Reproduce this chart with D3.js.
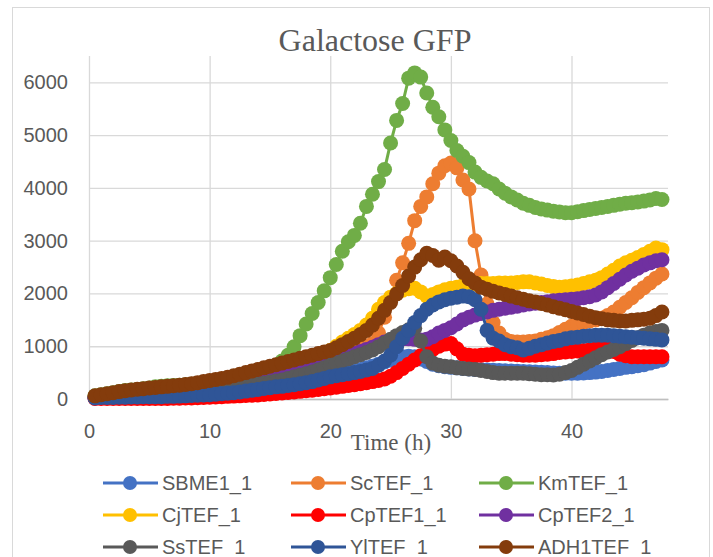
<!DOCTYPE html>
<html>
<head>
<meta charset="utf-8">
<script src="https://cdn.jsdelivr.net/npm/d3@7"></script>
<style>
  body { margin: 0; background: #fff; }
  svg { display: block; }
</style>
</head>
<body>
<div id="viz"></div>
<script>
const width = 713;
const height = 557;
const margin = {top: 56, right: 45, bottom: 158, left: 89};

// time in hours
const time = [
  0.5, 1, 1.5, 2, 2.5, 3, 3.5, 4, 4.5, 5,
  5.5, 6, 6.5, 7, 7.5, 8, 8.5, 9, 9.5, 10,
  10.5, 11, 11.5, 12, 12.5, 13, 13.5, 14, 14.5, 15,
  15.5, 16, 16.5, 17, 17.5, 18, 18.5, 19, 19.5, 20,
  20.5, 21, 21.5, 22, 22.5, 23, 23.5, 24, 24.5, 25,
  25.5, 26, 26.5, 27, 27.5, 28, 28.5, 29, 29.5, 30,
  30.5, 31, 31.5, 32, 32.5, 33, 33.5, 34, 34.5, 35,
  35.5, 36, 36.5, 37, 37.5, 38, 38.5, 39, 39.5, 40,
  40.5, 41, 41.5, 42, 42.5, 43, 43.5, 44, 44.5, 45,
  45.5, 46, 46.5, 47, 47.5
];

const SBME1_1 = [
  20, 25, 30, 30, 35, 35, 40, 40, 45, 45,
  50, 50, 55, 55, 60, 65, 70, 75, 80, 90,
  100, 110, 120, 130, 145, 160, 175, 190, 205, 220,
  235, 250, 265, 280, 300, 320, 340, 360, 385, 410,
  440, 470, 500, 530, 560, 590, 620, 660, 700, 740,
  780, 800, 810, 800, 760, 710, 660, 630, 610, 600,
  590, 580, 570, 560, 555, 550, 545, 540, 535, 530,
  525, 520, 515, 510, 505, 500, 495, 490, 490, 490,
  490, 495, 500, 510, 520, 540, 560, 580, 600, 610,
  630, 650, 680, 710, 740
];
const ScTEF_1 = [
  30, 40, 50, 55, 60, 70, 75, 80, 90, 100,
  105, 110, 120, 125, 130, 140, 150, 160, 170, 180,
  190, 200, 215, 230, 245, 260, 280, 300, 320, 340,
  360, 390, 420, 450, 480, 520, 560, 600, 640, 690,
  740, 790, 840, 890, 950, 1000, 1050, 1250, 1550, 1900,
  2250, 2580, 2950, 3380, 3650, 3830, 4080, 4280, 4420, 4470,
  4380, 4150, 3980, 3000, 2350, 1800, 1450, 1250, 1130, 1090,
  1080, 1080, 1090, 1100, 1130, 1160, 1200, 1260, 1320, 1380,
  1420, 1450, 1480, 1500, 1530, 1580, 1650, 1740, 1830, 1920,
  2020, 2110, 2200, 2290, 2370
];
const KmTEF_1 = [
  60, 80, 100, 120, 140, 160, 170, 180, 195, 210,
  230, 240, 250, 255, 260, 270, 280, 290, 300, 310,
  325, 340, 360, 380, 405, 430, 455, 485, 520, 570,
  640, 720, 830, 990, 1200, 1420, 1620, 1830, 2050, 2300,
  2550, 2800, 2980, 3100, 3330, 3650, 3880, 4120, 4350, 4850,
  5280, 5600, 6080, 6180, 6100, 5800, 5530, 5350, 5100, 4900,
  4710, 4600, 4480, 4300, 4200, 4130, 4080, 3980, 3900, 3830,
  3770, 3710, 3670, 3630, 3600, 3580, 3560, 3545, 3530, 3530,
  3550, 3570, 3590, 3610, 3630, 3650, 3670, 3690, 3710, 3720,
  3735, 3750, 3770, 3800, 3780
];
const CjTEF_1 = [
  40, 60, 80, 100, 110, 120, 130, 145, 160, 170,
  180, 190, 200, 210, 220, 230, 245, 260, 275, 290,
  305, 320, 340, 360, 380, 400, 420, 445, 470, 500,
  530, 560, 590, 620, 660, 700, 750, 800, 850, 920,
  1000, 1080, 1150, 1220, 1300, 1400, 1530, 1700, 1830, 1930,
  2000, 2060, 2090, 2100, 2030, 1950, 1980, 2030, 2070, 2100,
  2120, 2150, 2170, 2180, 2190, 2190, 2190, 2200, 2200, 2200,
  2210, 2220, 2220, 2200, 2180, 2150, 2130, 2120, 2125, 2140,
  2160, 2190, 2220, 2250, 2300, 2370, 2440, 2520, 2580, 2630,
  2680, 2740, 2800, 2860, 2830
];
const CpTEF1_1 = [
  10, 10, 10, 10, 10, 10, 10, 10, 10, 10,
  10, 10, 10, 15, 15, 20, 20, 25, 30, 35,
  40, 45, 50, 55, 60, 65, 70, 75, 85, 95,
  105, 115, 125, 135, 145, 155, 165, 180, 195, 210,
  225, 240, 255, 270, 290, 310, 330, 350, 380, 430,
  500, 580, 660, 740, 820, 880, 940, 1000, 1040, 1050,
  950, 850, 830, 820, 830, 840, 850, 860, 860, 850,
  840, 830, 830, 830, 840, 850, 860, 880, 890, 900,
  910, 920, 930, 950, 960, 950, 900, 850, 820, 800,
  800, 800, 800, 800, 800
];
const CpTEF2_1 = [
  30, 40, 50, 60, 70, 80, 90, 100, 110, 120,
  130, 140, 150, 160, 170, 180, 190, 200, 215, 230,
  245, 260, 275, 290, 310, 330, 350, 370, 390, 410,
  430, 460, 490, 520, 550, 580, 610, 640, 670, 700,
  740, 780, 820, 860, 900, 940, 980, 1030, 1080, 1110,
  1130, 1140, 1140, 1130, 1120, 1130, 1180, 1250, 1300, 1350,
  1420, 1500, 1550, 1590, 1620, 1650, 1680, 1700, 1720, 1740,
  1760, 1780, 1800, 1815, 1830, 1845, 1860, 1870, 1880, 1890,
  1900, 1920, 1940, 1970, 2030, 2110, 2190, 2270, 2350, 2420,
  2480, 2540, 2580, 2620, 2640
];
const SsTEF_1 = [
  40, 50, 60, 65, 70, 75, 80, 85, 90, 95,
  100, 105, 110, 115, 120, 130, 140, 150, 160, 170,
  180, 190, 200, 215, 230, 245, 260, 280, 300, 320,
  340, 360, 390, 420, 450, 480, 510, 550, 590, 640,
  680, 720, 760, 800, 840, 880, 930, 990, 1060, 1130,
  1200, 1260, 1310, 1340, 1100, 800, 680, 640, 620, 610,
  590, 580, 570, 560, 540, 520, 500, 490, 490, 490,
  490, 490, 480, 470, 460, 460, 455, 470, 500, 540,
  600, 660, 720, 780, 840, 890, 940, 990, 1050, 1110,
  1160, 1210, 1250, 1280, 1300
];
const YlTEF_1 = [
  20, 30, 30, 30, 35, 35, 40, 40, 45, 45,
  45, 45, 50, 50, 55, 60, 65, 70, 75, 80,
  90, 100, 110, 120, 135, 150, 165, 180, 200, 215,
  230, 240, 255, 270, 290, 310, 330, 360, 390, 420,
  440, 460, 480, 500, 520, 550, 580, 640, 720, 830,
  990, 1150, 1300, 1450, 1580, 1700, 1780, 1840, 1880, 1910,
  1930, 1950, 1940, 1880, 1700, 1300, 1150, 1100, 1030, 990,
  970, 930, 960, 1000, 1030, 1060, 1090, 1110, 1140, 1160,
  1170, 1190, 1200, 1210, 1210, 1210, 1200, 1190, 1180, 1170,
  1160, 1150, 1140, 1130, 1120
];
const ADH1TEF_1 = [
  60, 80, 100, 120, 140, 155, 170, 185, 195, 210,
  220, 230, 240, 250, 260, 275, 290, 310, 330, 350,
  370, 390, 410, 440, 470, 500, 530, 560, 590, 620,
  650, 680, 710, 740, 770, 800, 830, 860, 890, 920,
  970, 1030, 1090, 1150, 1220, 1300, 1400, 1530, 1680, 1830,
  1990, 2150, 2330, 2500, 2640, 2760, 2720, 2630, 2690, 2620,
  2520, 2400, 2280, 2200, 2120, 2080, 2040, 2010, 1980, 1950,
  1920, 1890, 1860, 1840, 1810, 1780, 1750, 1720, 1690, 1660,
  1630, 1600, 1570, 1540, 1520, 1500, 1490, 1480, 1480, 1490,
  1500, 1510, 1530, 1580, 1650
];

const seriesNames = ['SBME1_1', 'ScTEF_1', 'KmTEF_1', 'CjTEF_1', 'CpTEF1_1', 'CpTEF2_1', 'SsTEF_1', 'YlTEF_1', 'ADH1TEF_1'];
const seriesValues = [SBME1_1, ScTEF_1, KmTEF_1, CjTEF_1, CpTEF1_1, CpTEF2_1, SsTEF_1, YlTEF_1, ADH1TEF_1];
const colors = ['#4472C4', '#ED7D31', '#70AD47', '#FFC000', '#FF0000', '#7030A0', '#595959', '#2F5597', '#843C0C'];

const xTicks = [0, 10, 20, 30, 40];
const yTicks = [0, 1000, 2000, 3000, 4000, 5000, 6000];

const labelFont = '"Liberation Sans", Arial, sans-serif';
const serifFont = '"Liberation Serif", "Times New Roman", serif';

const xScale = d3.scaleLinear()
  .domain([0, 48])
  .range([margin.left, width - margin.right])

const yScale = d3.scaleLinear()
  .domain([0, 6500])
  .range([height - margin.bottom, margin.top])

const svg = d3.select('#viz')
  .append('svg')
    .attr('width', width)
    .attr('height', height)

// chart border
svg.append('rect')
  .attr('x', 12.5)
  .attr('y', 7.5)
  .attr('width', 697)
  .attr('height', 570)
  .attr('fill', '#fff')
  .attr('stroke', '#D9D9D9')

// title
svg.append('text')
  .attr('x', 375)
  .attr('y', 51)
  .attr('text-anchor', 'middle')
  .attr('font-family', serifFont)
  .attr('font-size', 32)
  .attr('fill', '#595959')
  .text('Galactose GFP')

// y gridlines + labels
const yAxis = svg.append('g')
  .attr('class', 'y-axis')
  .attr('transform', `translate(${margin.left}, 0)`)
  .call(d3.axisLeft(yScale)
    .tickValues(yTicks)
    .tickSize(-(xScale.range()[1] - margin.left))
    .tickPadding(21)
    .tickFormat(d3.format('d')))
yAxis.select('.domain').remove()
yAxis.selectAll('line').attr('stroke', '#D9D9D9').attr('stroke-width', 1.3)
yAxis.selectAll('text')
  .attr('font-family', labelFont)
  .attr('font-size', 20)
  .attr('fill', '#595959')

// x gridlines + labels
const xAxis = svg.append('g')
  .attr('class', 'x-axis')
  .attr('transform', `translate(0, ${yScale(0)})`)
  .call(d3.axisBottom(xScale)
    .tickValues(xTicks)
    .tickSize(-(yScale(0) - margin.top))
    .tickSizeOuter(0)
    .tickPadding(25))
xAxis.selectAll('.tick line').attr('stroke', '#D9D9D9').attr('stroke-width', 1.3)
xAxis.select('.domain').attr('stroke', '#BFBFBF').attr('stroke-width', 1.3)
xAxis.selectAll('text')
  .attr('font-family', labelFont)
  .attr('font-size', 20)
  .attr('fill', '#595959')

// x axis title
svg.append('text')
  .attr('x', 391)
  .attr('y', 450)
  .attr('text-anchor', 'middle')
  .attr('font-family', serifFont)
  .attr('font-size', 23)
  .attr('fill', '#595959')
  .text('Time (h)')

// series
const lineGenerator = d3.line()
  .x((d, i) => xScale(time[i]))
  .y(d => yScale(d))

seriesValues.forEach((values, k) => {
  const g = svg.append('g').attr('class', 'series')
  g.append('path')
    .attr('d', lineGenerator(values))
    .attr('fill', 'none')
    .attr('stroke', colors[k])
    .attr('stroke-width', 3)
    .attr('stroke-linejoin', 'round')
  g.selectAll('circle')
    .data(values)
    .join('circle')
    .attr('cx', (d, i) => xScale(time[i]))
    .attr('cy', d => yScale(d))
    .attr('r', 7.5)
    .attr('fill', colors[k])
})

// legend
const legend = svg.append('g').attr('class', 'legend')
seriesNames.forEach((name, k) => {
  const col = k % 3;
  const row = Math.floor(k / 3);
  const lx = 103 + col * 188;
  const ly = 483 + row * 32;
  const item = legend.append('g').attr('transform', `translate(${lx}, ${ly})`)
  item.append('line')
    .attr('x1', 0).attr('x2', 55)
    .attr('stroke', colors[k])
    .attr('stroke-width', 3)
  item.append('circle')
    .attr('cx', 27).attr('r', 7)
    .attr('fill', colors[k])
  item.append('text')
    .attr('x', 59)
    .attr('dy', '0.35em')
    .attr('font-family', labelFont)
    .attr('font-size', 20)
    .attr('fill', '#595959')
    .text(name)
})
</script>
</body>
</html>
